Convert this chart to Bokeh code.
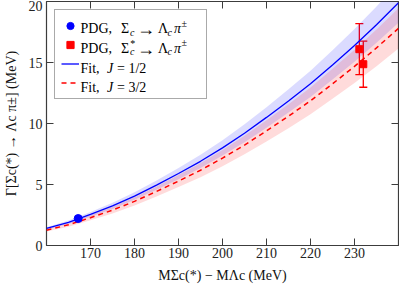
from bokeh.plotting import figure
from bokeh.models import (Label, LinearAxis, FixedTicker, Legend, LegendItem,
                          Whisker, TeeHead, ColumnDataSource, Range1d)
from bokeh.embed import file_html
from bokeh.resources import INLINE

# ---- data ----
dm = [160, 165, 170, 175, 180, 185, 190, 195, 200, 205, 210, 215, 220, 225, 230, 235, 240]
fit_half = [1.40, 1.90, 2.55, 3.25, 4.05, 4.95, 5.90, 6.90, 8.00, 9.20, 10.50, 11.85, 13.25, 14.80, 16.40, 18.10, 19.90]
fit_half_hi = [1.50, 2.04, 2.74, 3.50, 4.36, 5.33, 6.36, 7.44, 8.63, 9.93, 11.34, 12.80, 14.32, 16.00, 17.74, 19.59, 21.55]
fit_half_lo = [1.30, 1.76, 2.36, 3.00, 3.74, 4.57, 5.44, 6.36, 7.37, 8.47, 9.66, 10.90, 12.18, 13.60, 15.06, 16.61, 18.25]
fit_3half = [1.25, 1.70, 2.28, 2.90, 3.62, 4.43, 5.28, 6.17, 7.16, 8.23, 9.40, 10.60, 11.86, 13.25, 14.68, 16.20, 17.80]
fit_3half_hi = [1.36, 1.86, 2.49, 3.17, 3.96, 4.84, 5.77, 6.74, 7.82, 8.99, 10.27, 11.58, 12.96, 14.48, 16.04, 17.70, 19.45]
fit_3half_lo = [1.14, 1.54, 2.07, 2.63, 3.28, 4.02, 4.79, 5.60, 6.50, 7.47, 8.53, 9.62, 10.76, 12.02, 13.32, 14.70, 16.15]

pdg_sc_dm = [167.2]
pdg_sc_w = [2.21]
pdg_sc_err = [0.10]

pdg_scs_dm = [231.1, 232.0]
pdg_scs_w = [16.09, 14.86]
pdg_scs_err = [2.09, 1.89]

x_ticks = [170, 180, 190, 200, 210, 220, 230]
y_ticks = [0, 5, 10, 15, 20]

x_title = "MΣc(*) − MΛc (MeV)"
y_title = "Γ[Σc(*) → Λc π±] (MeV)"

FONT = "Liberation Serif"
FS = 14
AX = "#3c3c3c"

p = figure(width=399, height=289, x_range=Range1d(160, 240), y_range=Range1d(0, 20),
           output_backend="svg", toolbar_location=None,
           x_axis_type=None, y_axis_type=None,
           min_border_left=45, min_border_right=1, min_border_top=1, min_border_bottom=44)
p.outline_line_color = AX
p.outline_line_width = 1.2
p.background_fill_color = "white"
p.border_fill_color = "white"

def make_axis(ticks, show_labels):
    ax = LinearAxis(ticker=FixedTicker(ticks=ticks))
    ax.axis_line_color = None
    ax.major_tick_line_color = AX
    ax.major_tick_line_width = 1
    ax.major_tick_in = 7
    ax.major_tick_out = 0
    ax.minor_tick_line_color = None
    if show_labels:
        ax.major_label_text_font = FONT
        ax.major_label_text_font_size = f"{FS}px"
        ax.major_label_text_color = "#222222"
        ax.axis_label_text_font = FONT
        ax.axis_label_text_font_size = f"{FS}px"
        ax.axis_label_text_font_style = "normal"
        ax.axis_label_text_color = "#111111"
    else:
        ax.major_label_overrides = {t: "" for t in ticks}
        ax.major_label_standoff = 0
    return ax

bx = make_axis(x_ticks, True)
bx.major_label_standoff = 2
bx.axis_label = x_title
bx.axis_label_standoff = 7
lx = make_axis(y_ticks, True)
lx.major_label_standoff = 4
lx.axis_label = y_title
lx.axis_label_standoff = 7
tx = make_axis(x_ticks, False)
rx = make_axis(y_ticks, False)
p.add_layout(bx, "below")
p.add_layout(lx, "left")
p.add_layout(tx, "above")
p.add_layout(rx, "right")

# bands
p.varea(x=dm, y1=fit_half_lo, y2=fit_half_hi, fill_color="blue", fill_alpha=0.14)
p.varea(x=dm, y1=fit_3half_lo, y2=fit_3half_hi, fill_color="red", fill_alpha=0.14)

# lines
l_half = p.line(dm, fit_half, line_color="blue", line_width=1.3)
l_3half = p.line(dm, fit_3half, line_color="red", line_width=1.5, line_dash="5 4")

# error bars + points
src_sc = ColumnDataSource(dict(x=pdg_sc_dm, y=pdg_sc_w,
                               lo=[w - e for w, e in zip(pdg_sc_w, pdg_sc_err)],
                               hi=[w + e for w, e in zip(pdg_sc_w, pdg_sc_err)]))
src_scs = ColumnDataSource(dict(x=pdg_scs_dm, y=pdg_scs_w,
                                lo=[w - e for w, e in zip(pdg_scs_w, pdg_scs_err)],
                                hi=[w + e for w, e in zip(pdg_scs_w, pdg_scs_err)]))
p.add_layout(Whisker(base="x", lower="lo", upper="hi", source=src_scs, line_color="red", line_width=1.3,
                     upper_head=TeeHead(size=8, line_color="red", line_width=1.3),
                     lower_head=TeeHead(size=8, line_color="red", line_width=1.3)))
p.add_layout(Whisker(base="x", lower="lo", upper="hi", source=src_sc, line_color="blue", line_width=1.3,
                     upper_head=TeeHead(size=6, line_color="blue", line_width=1.3),
                     lower_head=TeeHead(size=6, line_color="blue", line_width=1.3)))
c_sc = p.scatter("x", "y", source=src_sc, marker="circle", size=8, fill_color="blue", line_color="blue")
c_scs = p.scatter("x", "y", source=src_scs, marker="square", size=7, fill_color="red", line_color="red")

# legend text runs (drawn first; legend box is transparent so they show through)
def T(text, X, Y, size=FS, style="normal"):
    p.add_layout(Label(x=X - 55, y=254 - Y, x_units="screen", y_units="screen", text=text,
                       text_font=FONT, text_font_size=f"{size}px", text_font_style=style,
                       text_baseline="alphabetic", text_align="left", text_color="black"))

SUB = 10
for base, star in ((37.0, False), (56.7, True)):
    T("PDG,", 89.0, base)
    T("Σ", 129.5, base)
    T("c", 138.5, base + 3.5, SUB, "italic")
    if star:
        T("*", 138.8, base - 4.5, SUB)
    T("→", 145.5, base + 0.5, 18)
    T("Λ", 166.5, base)
    T("c", 176.0, base + 3.5, SUB, "italic")
    T("π", 182.5, base, FS, "italic")
    T("±", 190.0, base - 5.5, SUB)
for base, frac in ((77.2, "= 1/2"), (96.2, "= 3/2")):
    T("Fit,", 89.0, base)
    T("J", 115.5, base, FS, "italic")
    T(frac, 125.5, base)

# legend box + icons
leg = Legend(items=[LegendItem(label=" ", renderers=[c_sc]),
                    LegendItem(label=" ", renderers=[c_scs]),
                    LegendItem(label=" ", renderers=[l_half]),
                    LegendItem(label=" ", renderers=[l_3half])],
             location="top_left", margin=8, padding=6, spacing=0,
             label_width=118, label_height=19, glyph_width=18, glyph_height=19,
             label_standoff=3, label_text_font_size="2px",
             border_line_color="#555555", border_line_width=1,
             background_fill_alpha=0.0)
p.add_layout(leg)

open("out.html", "w").write(file_html(p, INLINE))
